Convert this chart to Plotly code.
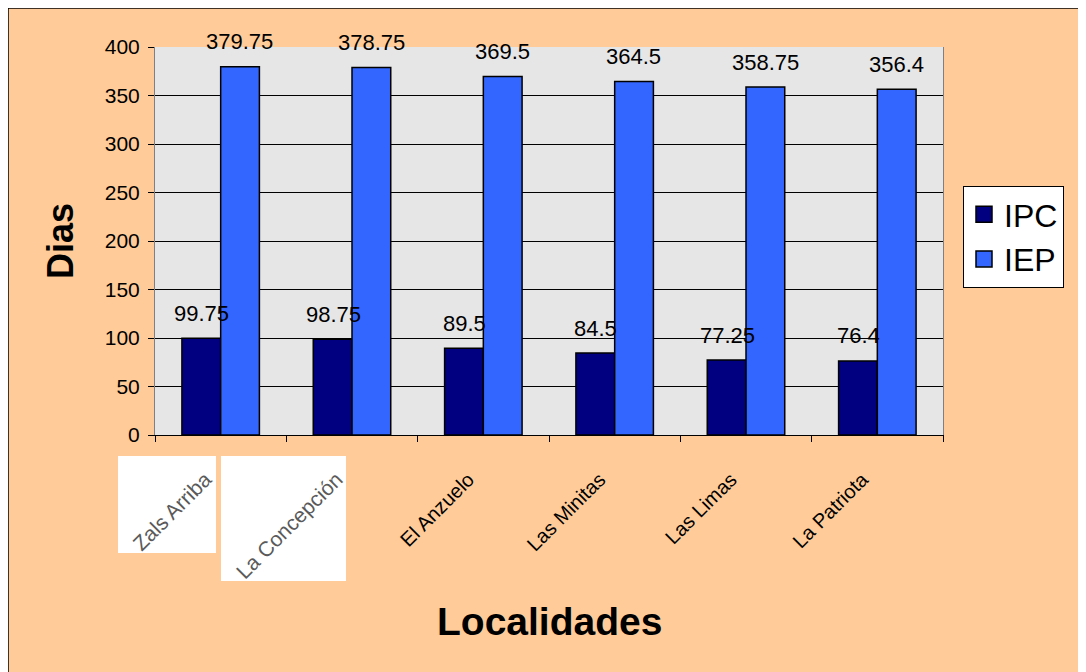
import plotly.graph_objects as go

# data
localidades = ["Zals Arriba", "La Concepción", "El Anzuelo", "Las Minitas", "Las Limas", "La Patriota"]
ipc = [99.75, 98.75, 89.5, 84.5, 77.25, 76.4]
iep = [379.75, 378.75, 369.5, 364.5, 358.75, 356.4]
y_ticks = [0, 50, 100, 150, 200, 250, 300, 350, 400]

FONT = "Liberation Sans, Arial, sans-serif"
OFF = 8  # page body margin
W, H = 1086 - OFF, 672 - OFF
L, T = 155 - OFF, 47 - OFF
R, B = W - (943 - OFF), H - (435 - OFF)
PW, PH = W - L - R, H - T - B


def px_x(p):
    # page pixel -> paper coordinate
    return (p - OFF - L) / PW


def px_y(p):
    return (H - B - (p - OFF)) / PH


# first two labels were pasted in as pictures: bigger grey text on white
ticktext = []
for i, name in enumerate(localidades):
    if i < 2:
        ticktext.append(f"<span style='color:#5a5a5a;font-size:21px'>{name}</span>")
    else:
        ticktext.append(name)

fig = go.Figure()
fig.add_trace(go.Bar(x=localidades, y=ipc, name="IPC", showlegend=False,
                     marker=dict(color="#000080", line=dict(color="black", width=1.5))))
fig.add_trace(go.Bar(x=localidades, y=iep, name="IEP", showlegend=False,
                     marker=dict(color="#3366FF", line=dict(color="black", width=1.5))))
# legend entries with bigger square swatches
for name, color in [("IPC", "#000080"), ("IEP", "#3366FF")]:
    fig.add_trace(go.Scatter(x=[None], y=[None], mode="markers", name=name,
                             marker=dict(symbol="square", size=20, color=color,
                                         line=dict(color="black", width=1.5))))

# value labels above each bar
annotations = []
for name, a, b in zip(localidades, ipc, iep):
    annotations.append(dict(x=name, y=a, text=f"{a:g}", showarrow=False, xshift=-19, yshift=25,
                            font=dict(size=22, color="black", family=FONT)))
    annotations.append(dict(x=name, y=b, text=f"{b:g}", showarrow=False, xshift=19, yshift=25,
                            font=dict(size=22, color="black", family=FONT)))

# x axis title placed directly
annotations.append(dict(text="<b>Localidades</b>", xref="paper", yref="paper",
                        x=0.5, y=px_y(621), xanchor="center", yanchor="middle",
                        showarrow=False, font=dict(size=39, color="black", family=FONT)))

shapes = [
    # white boxes behind the two pasted labels
    dict(type="rect", xref="paper", yref="paper", layer="below",
         x0=px_x(118), x1=px_x(216), y0=px_y(553), y1=px_y(456),
         fillcolor="white", line=dict(width=0)),
    dict(type="rect", xref="paper", yref="paper", layer="below",
         x0=px_x(221), x1=px_x(346), y0=px_y(581), y1=px_y(456),
         fillcolor="white", line=dict(width=0)),
    # outer border of the chart area
    dict(type="line", xref="paper", yref="paper",
         x0=px_x(OFF), x1=px_x(1100), y0=px_y(OFF), y1=px_y(OFF),
         line=dict(color="black", width=1.5)),
    dict(type="line", xref="paper", yref="paper",
         x0=px_x(OFF), x1=px_x(OFF), y0=px_y(OFF), y1=px_y(700),
         line=dict(color="black", width=1.5)),
]

fig.update_layout(
    width=W, height=H,
    margin=dict(l=L, r=R, t=T, b=B),
    paper_bgcolor="#FFCC99",
    plot_bgcolor="#E6E6E6",
    barmode="group",
    bargap=0.41,
    bargroupgap=0,
    font=dict(family=FONT, color="black", size=20),
    showlegend=True,
    legend=dict(x=px_x(963), y=px_y(186), xanchor="left", yanchor="top",
                bgcolor="white", bordercolor="black", borderwidth=1,
                font=dict(size=32, family=FONT), itemsizing="trace",
                tracegroupgap=0),
    annotations=annotations,
    shapes=shapes,
    xaxis=dict(
        tickmode="array", tickvals=localidades, ticktext=ticktext,
        tickangle=-45, tickfont=dict(size=20),
        ticks="outside", tickson="boundaries", ticklen=6, tickcolor="black",
        ticklabelstandoff=24, ticklabelshift=-15,
        showline=True, linecolor="black", linewidth=1,
    ),
    yaxis=dict(
        range=[0, 400], tickvals=y_ticks, tickfont=dict(size=21),
        ticks="outside", ticklen=6, tickcolor="black", ticklabelstandoff=4,
        showgrid=True, gridcolor="black", gridwidth=1,
        showline=True, linecolor="#808080", linewidth=1, mirror=True,
        zeroline=False,
        title=dict(text="<b>Dias</b>", font=dict(size=36), standoff=20),
    ),
)

fig.write_html("out.html")
